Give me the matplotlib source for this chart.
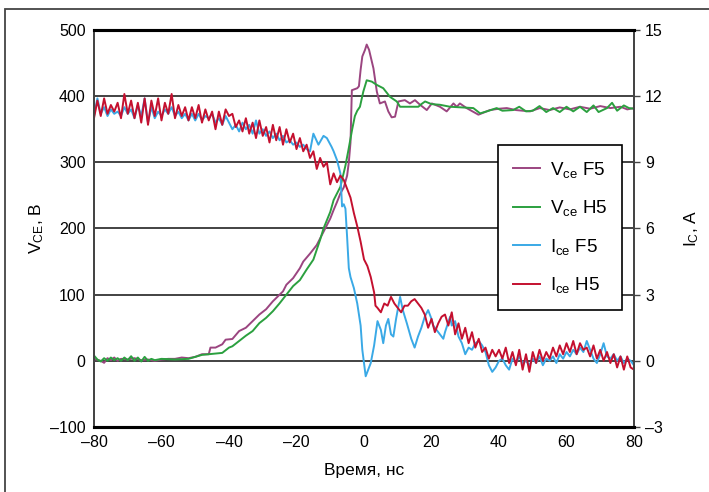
import matplotlib
matplotlib.use('Agg')
import matplotlib.pyplot as plt
from matplotlib.patches import Rectangle

plt.rcParams['font.family'] = ['Liberation Sans', 'DejaVu Sans']
plt.rcParams['mathtext.fontset'] = 'custom'
plt.rcParams['mathtext.rm'] = 'Liberation Sans'
plt.rcParams['mathtext.it'] = 'Liberation Sans'

# Vce F5 (V)
t_vf5 = [-80, -78, -77, -76, -75, -74, -73, -72, -70, -68, -66, -64, -62, -60, -58, -56, -54, -52, -50,
         -48, -46, -45.5, -44, -42, -41, -39, -37, -35, -33, -31, -29, -27, -26, -24, -23, -21, -19, -18,
         -16, -14, -12, -10, -9, -8, -7, -6, -5, -4.5, -4, -3.6, -2, -1.5, -1, -0.5, 0.3, 0.8, 1.5, 2.8,
         3.8, 4.7, 6.2, 7.2, 8.2, 9.2, 10.2, 12.1, 13.6, 15.1, 16.6, 18.6, 20.1, 22.5, 24.5, 26.5, 27.5,
         28.4, 30.4, 33.9, 37.3, 40, 42.3, 45, 49.2, 52.1, 55, 58, 61, 64, 67, 70, 73, 76, 78, 80]
v_f5 = [3, 0, -3, 4, 1, 5, 0, 3, 2, 4, 1, 2, 0, 2, 3, 3, 5, 4, 6,
        10, 10, 20, 20, 25, 32, 33, 45, 50, 60, 70, 78, 90, 95, 105, 115, 125, 140, 150,
        162, 175, 195, 215, 228, 240, 253, 262, 280, 300, 330, 409, 412, 415, 440, 460, 470, 478, 470, 442,
        407, 389, 392, 377, 368, 369, 392, 394, 389, 394, 387, 379, 389, 384, 377, 389, 384,
        389, 382, 372, 379, 381, 382, 379, 377, 382, 379, 383, 380, 384, 381, 385, 382, 384, 380, 382]

# Vce H5 (V)
t_vh5 = [-80, -79, -78, -77, -76, -75, -74, -73, -72, -71, -70, -69, -68, -67, -66, -65, -64, -63, -62,
         -60, -56, -52, -48, -44, -42, -40, -39, -37, -35, -33, -31, -29, -27, -25, -23, -21, -19, -17,
         -15, -13, -12, -10, -9, -7, -5.5, -4.6, -3.5, -2.7, -2, -1.2, -0.2, 0.8, 2.3, 3.8, 5.7, 7.7,
         9.7, 10.7, 13, 16.1, 17, 18.1, 20, 22.5, 25.5, 29, 32.4, 34.4, 37, 39.3, 41, 44.2, 46, 48, 50,
         52, 54, 56, 58, 60, 62, 64, 66, 68, 69.5, 72, 73.5, 75, 77, 78.5, 80]
v_h5 = [8, 2, -1, 4, 0, 5, 1, 4, 0, 5, 1, 7, 0, 5, -1, 6, 0, 3, 1,
        3, 2, 3, 9, 11, 12, 20, 22, 30, 38, 45, 57, 65, 75, 87, 100, 113, 122, 138,
        153, 183, 200, 225, 243, 263, 295, 319, 350, 370, 378, 384, 407, 424, 422, 417, 412, 399,
        392, 384, 384, 384, 388, 392, 388, 387, 384, 383, 382, 374, 378, 382, 378, 379, 384, 377, 378,
        385, 376, 382, 376, 384, 377, 384, 376, 386, 376, 382, 390, 378, 386, 382, 381]

# Ice F5 (A)
t_if5 = [-80, -79, -78, -77, -76, -75, -74, -73, -72, -71, -70, -69, -68, -67, -66, -65, -64, -63, -62,
         -61, -60, -59, -58, -57, -56, -55, -54, -53, -52, -51, -50, -49, -48, -47, -46, -45, -44, -43,
         -42, -41, -40, -39, -38, -37, -36, -35, -34, -33, -32, -31, -30, -29, -28, -27, -26, -25, -24,
         -23, -22, -21, -20, -19, -18, -17, -16, -15, -13.5, -12, -11, -9.6, -9, -8, -7, -6.5, -6, -5.5,
         -5, -4.5, -4, -3, -2, -1, -0.5, 0.5, 1, 2, 3, 4, 5, 5.7, 6.5, 7.2, 8, 8.7, 9.5, 10.7, 11.5,
         12.7, 14, 15, 16, 17, 18, 19, 20, 20.5, 22, 23.5, 24, 25.5, 26, 27, 28, 29, 30, 31, 32, 33, 34,
         35, 36, 37, 38, 39, 40, 41, 42, 43, 44, 45, 46, 47, 48, 49, 50, 51, 52, 53, 54, 55, 56, 57, 58,
         59, 60, 61, 62, 63, 64, 65, 66, 67, 68, 69, 70, 71, 72, 73, 74, 75, 76, 77, 78, 79, 80]
i_f5 = [11.1, 11.9, 11.2, 11.5, 11.1, 11.4, 11.2, 11.3, 11.1, 11.5, 11.2, 11.4, 11.0, 11.6, 11.1, 11.9, 10.8, 11.5, 11.0,
        11.3, 11.1, 11.4, 11.2, 11.5, 11.1, 11.3, 11.0, 11.2, 10.9, 11.2, 10.9, 11.2, 10.9, 11.1, 11.0, 11.2, 10.8, 11.0,
        10.7, 11.1, 10.8, 10.5, 10.7, 10.4, 10.8, 10.5, 10.7, 10.3, 10.9, 10.3, 10.5, 10.2, 10.4, 10.1, 10.3, 10.0, 10.2,
        9.9, 10.0, 9.8, 9.9, 9.7, 9.8, 9.6, 9.5, 10.3, 9.8, 10.2, 10.1, 9.7, 9.5, 9.1, 8.5, 7.0, 7.1, 6.9,
        5.6, 4.2, 3.8, 3.3, 2.6, 1.6, 0.5, -0.7, -0.5, -0.1, 0.7, 1.8, 1.4, 0.8, 1.6, 1.9, 1.2, 1.1, 1.9, 2.9, 2.3,
        1.7, 1.0, 0.6, 1.1, 1.5, 2.0, 2.3, 1.9, 1.6, 1.3, 1.0, 1.3, 2.0, 1.6, 1.8, 1.1, 0.8, 0.3, 0.6, 0.5, 0.8, 0.9,
        0.7, 0.4, -0.2, -0.5, -0.3, 0.0, 0.1, -0.2, -0.4, 0.1, -0.1, 0.2, -0.1, 0.0, -0.2, 0.1, -0.1, 0.2, -0.2, 0.1, 0.0, 0.2, -0.1, 0.3,
        0.1, 0.4, 0.2, 0.5, 0.3, 0.6, 0.4, 0.9, 0.5, 0.1, -0.1, 0.3, 0.8, 0.2, 0.1, 0.3, 0.0, 0.2, -0.1, 0.1, 0.0, -0.2]

# Ice H5 (A)
t_ih5 = list(range(-80, 3)) + [3, 3.4, 4] + list(range(5, 81))
i_h5 = [11.0, 11.8, 11.1, 11.9, 11.2, 11.6, 11.3, 11.7, 11.0, 12.1, 11.2, 11.8, 11.0, 11.7, 10.8, 11.9, 10.7,
        11.8, 11.1, 11.9, 10.9, 11.7, 11.2, 12.1, 11.0, 11.6, 11.1, 11.5, 10.9, 11.5, 11.0, 11.6, 10.8, 11.4,
        10.9, 11.3, 10.5, 11.3, 10.7, 11.4, 11.1, 11.2, 10.6, 10.9, 10.4, 11.0, 10.3, 10.8, 10.1, 10.9, 10.2,
        10.6, 9.9, 10.7, 10.0, 10.6, 9.8, 10.5, 9.9, 10.3, 9.6, 10.1, 9.5, 9.8, 9.2, 9.5, 8.7, 9.2, 8.8, 9.0,
        8.0, 8.5, 8.1, 8.4, 8.2, 7.8, 7.4, 6.7, 6.1, 5.4, 4.6, 4.3, 3.8,
        3.1, 2.5, 2.4,
        2.2, 2.6, 2.5, 2.9, 2.6, 2.4, 2.2, 2.5, 2.5, 2.7, 2.8, 2.6, 2.4, 2.1, 1.5, 1.9, 1.3, 1.7, 2.0, 2.1,
        1.6, 2.2, 1.2, 1.7, 1.0, 1.5, 0.8, 1.3, 0.6, 1.0, 0.4, 0.6, 0.1, 0.5, 0.2, 0.5, 0.1, 0.6, -0.1, 0.4,
        -0.2, 0.5, -0.4, 0.3, -0.5, 0.4, -0.1, 0.5, 0.0, 0.4, 0.1, 0.6, 0.2, 0.7, 0.3, 0.8, 0.4, 0.9, 0.3,
        0.8, 0.5, 0.6, 0.2, 0.7, 0.1, 0.5, 0.0, 0.4, -0.1, 0.3, -0.3, 0.2, -0.4, 0.2, -0.3, -0.4]

x_ticks = [-80, -60, -40, -20, 0, 20, 40, 60, 80]
v_ticks = [-100, 0, 100, 200, 300, 400, 500]
i_ticks = [-3, 0, 3, 6, 9, 12, 15]

c_vf5 = '#9b4580'
c_vh5 = '#2ba03f'
c_if5 = '#3aa9e6'
c_ih5 = '#c4102f'

fig = plt.figure(figsize=(7.09, 4.92), dpi=100)
fig.patches.append(Rectangle((5 / 709, -0.1), 1.1, 1 - 9 / 492 + 0.1, transform=fig.transFigure,
                             fill=False, edgecolor='#444444', linewidth=1.3))
ax = fig.add_axes([94 / 709, 65 / 492, 540 / 709, 397 / 492])
ax2 = ax.twinx()

ax.set_xlim(-80, 80)
ax.set_ylim(-100, 500)
ax2.set_ylim(-3, 15)

for y in [0, 100, 200, 300, 400]:
    ax.axhline(y, color='#222222', linewidth=1.2, zorder=0)

lw = 1.4
l1, = ax.plot(t_vf5, v_f5, color=c_vf5, lw=lw, label='V$_{\\mathrm{ce}}$ F5')
l2, = ax.plot(t_vh5, v_h5, color=c_vh5, lw=lw, label='V$_{\\mathrm{ce}}$ H5')
l3, = ax2.plot(t_if5, i_f5, color=c_if5, lw=lw, label='I$_{\\mathrm{ce}}$ F5')
l4, = ax2.plot(t_ih5, i_h5, color=c_ih5, lw=lw, label='I$_{\\mathrm{ce}}$ H5')

ax.set_xticks(x_ticks)
ax.set_xticklabels([str(v).replace('-', '\u2013') for v in x_ticks])
ax.set_yticks(v_ticks)
ax.set_yticklabels([str(v).replace('-', '\u2013') for v in v_ticks])
ax2.set_yticks(i_ticks)
ax2.set_yticklabels([str(v).replace('-', '\u2013') for v in i_ticks])

ax.tick_params(axis='both', length=0, labelsize=11.5, pad=6)
ax2.tick_params(axis='y', length=4, width=1, color='#444444', labelsize=11.5, pad=4)

for a in (ax, ax2):
    a.spines['top'].set_linewidth(2.2)
    a.spines['top'].set_color('black')
    a.spines['bottom'].set_linewidth(2.2)
    a.spines['bottom'].set_color('black')
    a.spines['left'].set_linewidth(1.3)
    a.spines['left'].set_color('#444444')
    a.spines['right'].set_linewidth(1.3)
    a.spines['right'].set_color('#444444')

ax.set_xlabel('Время, нс', fontsize=12.5, labelpad=9)
ax.set_ylabel('V$_{\\mathrm{CE}}$, B', fontsize=12.5, labelpad=3)
ax2.set_ylabel('I$_{\\mathrm{C}}$, A', fontsize=12.5, labelpad=14)

leg = ax2.legend(handles=[l1, l2, l3, l4], loc='upper left', bbox_to_anchor=(498 / 709, 1 - 145 / 492),
                 bbox_transform=fig.transFigure, fontsize=13.5, frameon=True, fancybox=False,
                 edgecolor='black', framealpha=1, labelspacing=0.98, handlelength=1.45,
                 handletextpad=0.5, borderpad=0.8, borderaxespad=0)
leg.get_frame().set_linewidth(1.2)

fig.savefig('out.png', dpi=100)
